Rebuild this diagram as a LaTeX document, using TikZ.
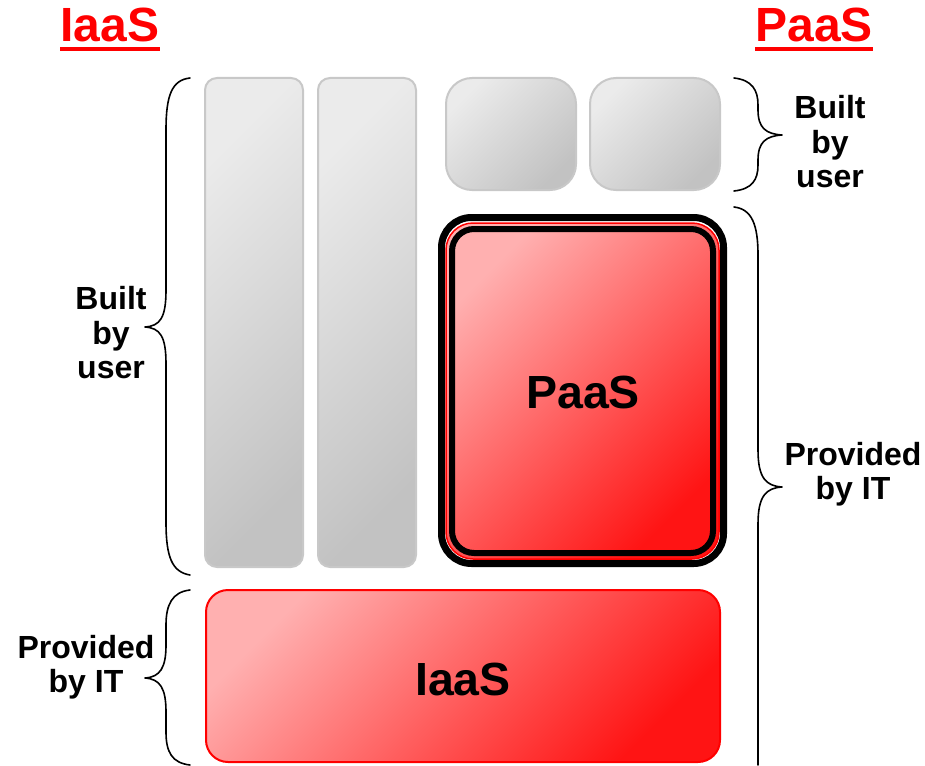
\documentclass[tikz,border=0pt]{standalone}
\usepackage{fontspec}
\setmainfont{Liberation Sans}
\usetikzlibrary{calc}
\definecolor{gbord}{HTML}{C8C8C8}
\definecolor{glight}{HTML}{EBEBEB}
\definecolor{gdark}{HTML}{C2C2C2}
\definecolor{rlight}{HTML}{FFB0B0}
\definecolor{rdark}{HTML}{FF1414}
\definecolor{tred}{HTML}{FF0000}
\begin{document}
\begin{tikzpicture}[x=1pt,y=-1pt,
  graybox/.style={draw=gbord, line width=2pt, top color=glight, bottom color=gdark, shading angle=45, inner sep=0pt, outer sep=0pt},
  redbox/.style={draw=tred, top color=rlight, bottom color=rdark, shading angle=45, inner sep=0pt, outer sep=0pt},
  blackring/.style={draw=black, inner sep=0pt, outer sep=0pt},
  label/.style={font=\fontsize{32}{34.5}\selectfont\bfseries, align=center, inner sep=0pt},
  title/.style={font=\fontsize{48}{52}\selectfont\bfseries, text=tred, inner sep=0pt, anchor=base},
  big/.style={font=\fontsize{46.5}{50}\selectfont\bfseries, inner sep=0pt},
  brace/.style={line width=1.6pt, line cap=round, line join=round}]
\useasboundingbox (0,0) rectangle (925,765);
% titles
\node[title] (t1) at (110,42) {IaaS};
\node[title] (t2) at (814,42) {PaaS};
\fill[tred] ($(t1.base west)+(0,5)$) rectangle ($(t1.base east)+(0,9)$);
\fill[tred] ($(t2.base west)+(0,5)$) rectangle ($(t2.base east)+(0,9)$);
% gray boxes
\node[graybox, rounded corners=12pt, minimum width=98, minimum height=489] (bar1) at (254,322.5) {};
\node[graybox, rounded corners=12pt, minimum width=98, minimum height=489] (bar2) at (367,322.5) {};
\node[graybox, rounded corners=26pt, minimum width=130, minimum height=112] (sb1) at (511,134) {};
\node[graybox, rounded corners=26pt, minimum width=130, minimum height=112] (sb2) at (655,134) {};
% PaaS box
\node[blackring, line width=7pt, rounded corners=30pt, minimum width=282, minimum height=346] (pout) at (582.5,390.5) {};
\node[redbox, line width=1.5pt, rounded corners=27pt, minimum width=273, minimum height=336] (pred) at (582.5,391) {};
\node[blackring, line width=6pt, rounded corners=22pt, minimum width=261, minimum height=324] (pin) at (582.5,391) {};
\node[big] (ptext) at (583,392) {PaaS};
% IaaS box
\node[redbox, line width=2pt, rounded corners=22pt, minimum width=514, minimum height=172] (ibox) at (463,676) {};
\node[big] (itext) at (463,679) {IaaS};
% braces
\draw[brace] (190,78) .. controls (172,80) and (166,95) .. (166,130) -- (166,290)
  .. controls (166,318) and (160,326) .. (145,327)
  .. controls (160,328) and (166,336) .. (166,364) -- (166,522)
  .. controls (166,557) and (172,572) .. (190,575);
\draw[brace] (190,590) .. controls (172,592) and (166,605) .. (166,625) -- (166,645)
  .. controls (166,668) and (160,677) .. (145,678)
  .. controls (160,679) and (166,688) .. (166,712) -- (166,732)
  .. controls (166,752) and (172,763) .. (190,765);
\draw[brace] (734,78) .. controls (752,80) and (758,90) .. (758,105) -- (758,110)
  .. controls (758,128) and (766,134) .. (782,135)
  .. controls (766,136) and (758,142) .. (758,160) -- (758,165)
  .. controls (758,180) and (752,189) .. (734,191);
\draw[brace] (734,207) .. controls (752,209) and (758,225) .. (758,255) -- (758,450)
  .. controls (758,478) and (766,486) .. (782,487)
  .. controls (766,488) and (758,496) .. (758,524) -- (758,765);
% labels
\node[label] (l1) at (111,333) {Built\\by\\user};
\node[label] (l2) at (86,667) {Provided\\by IT};
\node[label] (l3) at (830,142) {Built\\by\\user};
\node[label] (l4) at (853,474) {Provided\\by IT};
\end{tikzpicture}
\end{document}
